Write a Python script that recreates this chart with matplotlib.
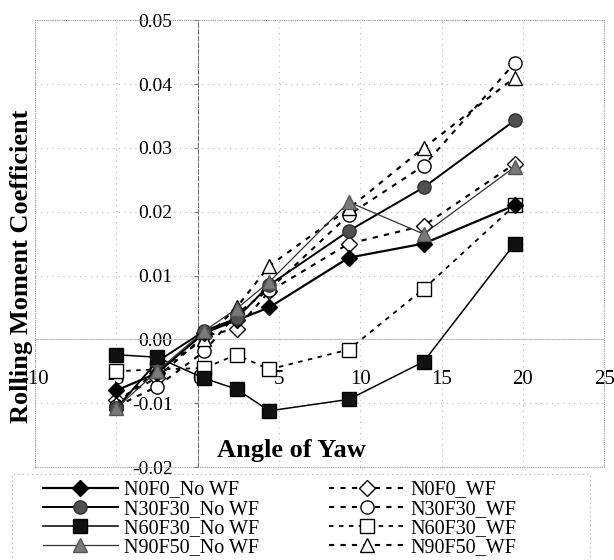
import numpy as np
import matplotlib
matplotlib.use('Agg')
import matplotlib.pyplot as plt
from matplotlib.patches import Rectangle

plt.rcParams['font.family'] = ['Liberation Serif', 'DejaVu Serif']

# Angle of yaw positions
yaw = [-5, -2.5, 0.4, 2.4, 4.4, 9.3, 13.9, 19.5]

# Rolling moment coefficients, no wing fences
n0f0_no = [-0.0080, -0.0053, 0.0010, 0.0030, 0.0050, 0.0128, 0.0150, 0.0210]
n30f30_no = [-0.0108, -0.0035, 0.0013, 0.0033, 0.0085, 0.0170, 0.0238, 0.0343]
n60f30_no = [-0.0024, -0.0028, -0.0061, -0.0078, -0.0112, -0.0094, -0.0035, 0.0150]
n90f50_no = [-0.0108, -0.0050, 0.0013, 0.0048, 0.0090, 0.0215, 0.0165, 0.0270]

# with wing fences
n0f0_wf = [-0.0095, -0.0060, 0.0005, 0.0017, 0.0075, 0.0150, 0.0178, 0.0275]
n30f30_wf = [-0.0105, -0.0074, -0.0019, 0.0040, 0.0078, 0.0195, 0.0272, 0.0433]
n60f30_wf = [-0.0050, -0.0047, -0.0045, -0.0024, -0.0047, -0.0016, 0.0079, 0.0210]
n90f50_wf = [-0.0100, -0.0050, 0.0000, 0.0050, 0.0115, 0.0205, 0.0300, 0.0410]

labels_no = ['N0F0_No WF', 'N30F30_No WF', 'N60F30_No WF', 'N90F50_No WF']
labels_wf = ['N0F0_WF', 'N30F30_WF', 'N60F30_WF', 'N90F50_WF']

fig = plt.figure(figsize=(6.14, 5.6), dpi=100)
ax = fig.add_axes([0.057, 0.166, 0.927, 0.798])

dash = (0, (2.5, 3))
# solid series
ax.plot(yaw, n0f0_no, color='black', lw=1.6, marker='D', ms=8,
        mfc='black', mec='black', label=labels_no[0], zorder=4)
ax.plot(yaw, n30f30_no, color='black', lw=1.4, marker='o', ms=9.5,
        mfc='#505050', mec='#303030', label=labels_no[1], zorder=4)
ax.plot(yaw, n60f30_no, color='black', lw=1.1, marker='s', ms=9.5,
        mfc='#111111', mec='black', label=labels_no[2], zorder=4)
ax.plot(yaw, n90f50_no, color='#333333', lw=0.9, marker='^', ms=9.5,
        mfc='#7a7a7a', mec='#555555', label=labels_no[3], zorder=4)
# dashed series
ax.plot(yaw, n0f0_wf, color='black', lw=1.5, ls=dash, marker='D', ms=8,
        mfc='white', mec='black', label=labels_wf[0], zorder=3)
ax.plot(yaw, n30f30_wf, color='black', lw=1.5, ls=dash, marker='o', ms=9.5,
        mfc='white', mec='black', label=labels_wf[1], zorder=3)
ax.plot(yaw, n60f30_wf, color='black', lw=1.3, ls=dash, marker='s', ms=10,
        mfc='white', mec='black', label=labels_wf[2], zorder=3)
ax.plot(yaw, n90f50_wf, color='black', lw=1.5, ls=dash, marker='^', ms=10,
        mfc='white', mec='black', label=labels_wf[3], zorder=3)

ax.set_xlim(-10, 25)
ax.set_ylim(-0.02, 0.05)
ax.set_xticks(np.arange(-10, 26, 5))
ax.set_yticks(np.arange(-0.02, 0.051, 0.01))
ax.yaxis.set_major_formatter(matplotlib.ticker.FormatStrFormatter('%.2f'))
ax.set_xticklabels(['-10', '-5', '0', '5', '10', '15', '20', '25'])

# axes cross at the origin, like the spreadsheet chart
for side in ['top', 'right']:
    ax.spines[side].set_visible(False)
ax.spines['left'].set_position(('data', 0))
ax.spines['bottom'].set_position(('data', 0))
ax.spines['left'].set_color('#777777')
ax.spines['left'].set_linestyle((0, (4, 2)))
ax.spines['left'].set_linewidth(0.8)
ax.spines['bottom'].set_color('#bbbbbb')
ax.spines['bottom'].set_linewidth(0.6)
ax.tick_params(axis='y', labelsize=14, pad=15, length=3, color='#777777')
ax.tick_params(axis='x', labelsize=15, pad=22, length=0)

ax.grid(True, color='#bbbbbb', ls=(0, (1, 4)), lw=0.8)
ax.set_axisbelow(True)

# plot area frame
ax.add_patch(Rectangle((0, 0), 1, 1, transform=ax.transAxes, fill=False,
                       ec='#999999', lw=0.8, ls=(0, (1, 1)), clip_on=False))

ax.set_xlabel('Angle of Yaw', fontsize=19, fontweight='bold')
ax.xaxis.set_label_coords(0.45, 0.062)
ax.set_ylabel('Rolling Moment Coefficient', fontsize=19, fontweight='bold')
ax.yaxis.set_label_coords(-0.004, 0.45)

handles, labels = ax.get_legend_handles_labels()
leg = fig.legend(handles, labels, ncol=2, loc='upper left',
                 bbox_to_anchor=(0.054, 0.16),
                 bbox_transform=fig.transFigure, frameon=False,
                 fontsize=14.5, handlelength=3.7, handletextpad=0.3,
                 labelspacing=0.0, columnspacing=3.5, borderpad=0)

fig.patches.append(Rectangle((12 / 614, -0.05), 578 / 614, 0.05 + 86 / 560,
                             transform=fig.transFigure, fill=False,
                             ec='#aaaaaa', lw=0.8, ls=(0, (1, 3))))

fig.savefig('out.png', dpi=100)
